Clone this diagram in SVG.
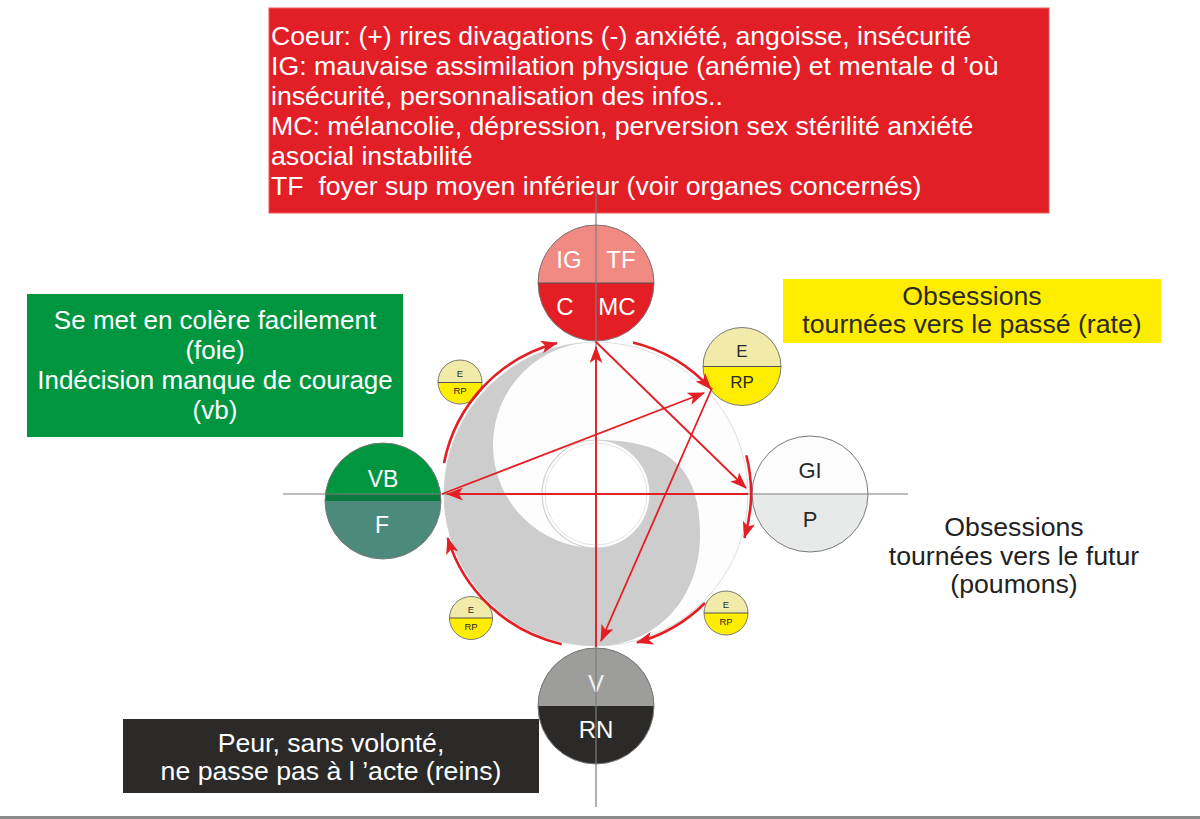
<svg xmlns="http://www.w3.org/2000/svg" width="1200" height="819" viewBox="0 0 1200 819">
<style>
text{font-family:"Liberation Sans",Arial,sans-serif}
.big{font-size:26.67px}
.w{fill:#ffffff}
.dk{fill:#2b2a29}
.c{text-anchor:middle}
.rim{stroke:#7a7a7a;stroke-width:1}
.axis{stroke:#7d7d7d;stroke-width:1.2;fill:none}
.arc{stroke:#e31e24;stroke-width:2.6;fill:none;marker-end:url(#ah)}
.ln{stroke:#e31e24;stroke-width:1.8;fill:none;marker-end:url(#ah)}
.div{stroke:#555;stroke-width:1.2}
.sm{font-size:9.5px}
</style>
<defs>
<marker id="ah" viewBox="0 0 16 12" refX="15" refY="6" markerWidth="17" markerHeight="13" markerUnits="userSpaceOnUse" orient="auto">
<path d="M0,0 L16,6 L0,12 L4,6 z" fill="#e31e24"/>
</marker>
</defs>
<rect width="1200" height="819" fill="#ffffff"/>

<g id="box-coeur">
<rect x="269" y="8" width="780" height="205" fill="#e21e26" stroke="#ec5a5f" stroke-width="1"/>
<text class="big w" x="271" y="45">Coeur: (+) rires divagations (-) anxiété, angoisse, insécurité</text>
<text class="big w" x="271" y="75">IG: mauvaise assimilation physique (anémie) et mentale d ’où</text>
<text class="big w" x="271" y="105">insécurité, personnalisation des infos..</text>
<text class="big w" x="271" y="135">MC: mélancolie, dépression, perversion sex stérilité anxiété</text>
<text class="big w" x="271" y="165">asocial instabilité</text>
<text class="big w" x="271" y="195" xml:space="preserve">TF  foyer sup moyen inférieur (voir organes concernés)</text>
</g>

<g id="box-foie">
<rect x="27" y="294" width="376" height="143" fill="#009640"/>
<text class="w c" style="font-size:26px" x="215" y="329">Se met en colère facilement</text>
<text class="w c" style="font-size:26px" x="215" y="359">(foie)</text>
<text class="w c" style="font-size:26px" x="215" y="389">Indécision manque de courage</text>
<text class="w c" style="font-size:26px" x="215" y="419">(vb)</text>
</g>

<g id="box-rate">
<rect x="783" y="279" width="378" height="64" fill="#ffed00"/>
<text class="big dk c" x="972" y="305">Obsessions</text>
<text class="big dk c" x="972" y="333">tournées vers le passé (rate)</text>
</g>

<g id="text-poumons">
<text class="big c" fill="#222" x="1014" y="536">Obsessions</text>
<text class="big c" fill="#222" x="1014" y="565">tournées vers le futur</text>
<text class="big c" fill="#222" x="1014" y="593">(poumons)</text>
</g>

<g id="box-reins">
<rect x="123" y="719" width="416" height="74" fill="#2b2a29"/>
<text class="big w c" x="331" y="752">Peur, sans volonté,</text>
<text class="big w c" x="331" y="780">ne passe pas à l ’acte (reins)</text>
</g>

<g id="ring">
<circle cx="596" cy="494" r="152" fill="#fdfdfd" stroke="#dedede" stroke-width="1"/>
<path d="M596,342 A152,152 0 0 0 596,646 C655,646 700,600 700,535 C700,470 672,440 596,440 L596,548 A103,103 0 0 1 596,342 Z" fill="#cdcdcd"/>
<circle cx="596" cy="494" r="54" fill="#ffffff" stroke="#cfcfcf" stroke-width="1.2"/>
<circle cx="596" cy="494" r="51" fill="none" stroke="#e2e2e2" stroke-width="1"/>
</g>

<g id="node-coeur">
<circle cx="596" cy="283" r="58" fill="#e31e24"/>
<path d="M538,283 A58,58 0 0 1 654,283 Z" fill="#f08a82"/>
<circle cx="596" cy="283" r="58" fill="none" class="rim"/>
<line x1="538" y1="283" x2="654" y2="283" class="div"/>
<text class="w c" style="font-size:24px" x="569" y="268">IG</text>
<text class="w c" style="font-size:24px" x="621" y="268">TF</text>
<text class="w c" style="font-size:24px" x="565" y="315">C</text>
<text class="w c" style="font-size:24px" x="617" y="315">MC</text>
</g>

<g id="node-rate">
<circle cx="742" cy="366.5" r="39" fill="#ffed00"/>
<path d="M703,366.5 A39,39 0 0 1 781,366.5 Z" fill="#f1eaa9"/>
<circle cx="742" cy="366.5" r="39" fill="none" class="rim"/>
<line x1="703" y1="366.5" x2="781" y2="366.5" class="div"/>
<text class="dk c" style="font-size:17px" x="742" y="357">E</text>
<text class="dk c" style="font-size:17px" x="742" y="388">RP</text>
</g>

<g id="node-poumons">
<circle cx="810" cy="494" r="58" fill="#e8e9e9"/>
<path d="M752,494 A58,58 0 0 1 868,494 Z" fill="#fcfcfc"/>
<circle cx="810" cy="494" r="58" fill="none" class="rim"/>
<text class="dk c" style="font-size:22px" x="810" y="478">GI</text>
<text class="dk c" style="font-size:22px" x="810" y="527">P</text>
</g>

<g id="node-foie">
<circle cx="383" cy="501" r="58" fill="#4c8b7c"/>
<path d="M325,501 A58,58 0 0 1 441,501 Z" fill="#00963f"/>
<path d="M326,494 L440,494 L441,501 L325,501 Z" fill="#0c7a3e"/>
<circle cx="383" cy="501" r="58" fill="none" class="rim"/>
<text class="w c" style="font-size:23px" x="383" y="487">VB</text>
<text class="w c" style="font-size:23px" x="382" y="533">F</text>
</g>

<g id="node-reins">
<circle cx="596" cy="706" r="58" fill="#2b2a29"/>
<path d="M538,706 A58,58 0 0 1 654,706 Z" fill="#9d9d9c"/>
<circle cx="596" cy="706" r="58" fill="none" class="rim"/>
<text class="c" fill="#f2f2f2" style="font-size:24px" x="596" y="692">V</text>
<text class="w c" style="font-size:24px" x="596" y="738">RN</text>
</g>

<g id="node-erp-1">
<circle cx="460" cy="382" r="22" fill="#ffed00"/>
<path d="M438,382 A22,22 0 0 1 482,382 Z" fill="#f1eaa9"/>
<circle cx="460" cy="382" r="22" fill="none" class="rim"/>
<line x1="438" y1="382.5" x2="482" y2="382.5" class="div"/>
<text class="dk c sm" x="460" y="377">E</text>
<text class="dk c sm" x="460" y="394">RP</text>
</g>

<g id="node-erp-2">
<circle cx="471" cy="618" r="21.5" fill="#ffed00"/>
<path d="M449.5,618 A21.5,21.5 0 0 1 492.5,618 Z" fill="#f1eaa9"/>
<circle cx="471" cy="618" r="21.5" fill="none" class="rim"/>
<line x1="449.5" y1="618" x2="492.5" y2="618" class="div"/>
<text class="dk c sm" x="471" y="613">E</text>
<text class="dk c sm" x="471" y="630">RP</text>
</g>

<g id="node-erp-3">
<circle cx="726" cy="613" r="22" fill="#ffed00"/>
<path d="M704,613 A22,22 0 0 1 748,613 Z" fill="#f1eaa9"/>
<circle cx="726" cy="613" r="22" fill="none" class="rim"/>
<line x1="704" y1="613" x2="748" y2="613" class="div"/>
<text class="dk c sm" x="726" y="608">E</text>
<text class="dk c sm" x="726" y="625">RP</text>
</g>

<g id="axes">
<line x1="596" y1="192" x2="596" y2="807" class="axis"/>
<line x1="283" y1="494" x2="908" y2="494" class="axis"/>
</g>

<g id="connectors">
<path class="arc" d="M444,463 A155,155 0 0 1 557,343"/>
<path class="arc" d="M633,342.5 A155,155 0 0 1 711,389"/>
<path class="arc" d="M746.3,455.2 A155,155 0 0 1 744.4,537.8"/>
<path class="arc" d="M705,603 A155,155 0 0 1 637,642.5"/>
<path class="arc" d="M561.7,644.2 A155,155 0 0 1 447.7,538.1"/>
<path class="ln" d="M596,647 L596,347"/>
<path class="ln" d="M748,494 L447,494"/>
<path class="ln" d="M442,494 L704,393"/>
<path class="ln" d="M596,342 L746,488"/>
<path class="ln" d="M712,388 L601,641"/>
</g>

<rect x="0" y="816" width="1200" height="3" fill="#8a8a8a"/>
</svg>
